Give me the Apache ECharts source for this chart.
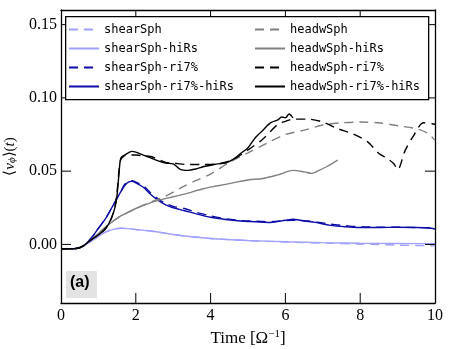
<!DOCTYPE html>
<html lang="en">
<head>
    <meta charset="UTF-8">
    <title>v_phi vs time</title>
    <script src="https://cdn.jsdelivr.net/npm/echarts@6/dist/echarts.min.js"></script>
</head>
<body style="margin:0;background:#fff">
<div id="container" style="width:449px;height:349px"></div>
<script type="text/javascript">
    // data
    let tShear = [0, 0.4, 0.6, 0.8, 1.0, 1.2, 1.4, 1.6, 1.8, 2.0, 2.5, 3.0, 3.5, 4.0, 5.0, 6.0, 7.0, 8.0, 9.0, 10];
    let shearSph = [-0.003, -0.0028, -0.001, 0.002, 0.0055, 0.0085, 0.0103, 0.011, 0.0108, 0.0102, 0.0088, 0.0068, 0.0052, 0.004, 0.0026, 0.0016, 0.0009, 0.0002, -0.0005, -0.001];
    let shearSphHiRs = [-0.003, -0.0028, -0.001, 0.002, 0.0055, 0.0085, 0.0103, 0.011, 0.0108, 0.0102, 0.0088, 0.0068, 0.0052, 0.004, 0.0027, 0.0018, 0.0012, 0.0008, 0.0006, 0.0005];

    let tShearRi = [0, 0.4, 0.6, 0.8, 1.0, 1.2, 1.4, 1.6, 1.7, 1.8, 1.9, 2.0, 2.2, 2.4, 2.6, 2.8, 3.0, 3.3, 3.6, 4.0, 4.4, 4.8, 5.2, 5.6, 6.0, 6.2, 6.5, 6.8, 7.2, 7.6, 8.0, 8.5, 9.0, 9.5, 9.9, 10];
    let shearSphRi = [-0.003, -0.0028, -0.001, 0.004, 0.011, 0.018, 0.027, 0.036, 0.041, 0.043, 0.0435, 0.0425, 0.040, 0.035, 0.031, 0.028, 0.026, 0.0245, 0.022, 0.0195, 0.0175, 0.0163, 0.0158, 0.0155, 0.0163, 0.0165, 0.0162, 0.0155, 0.0138, 0.0128, 0.012, 0.0118, 0.0117, 0.0115, 0.0113, 0.010];
    let shearSphRiHiRs = [-0.003, -0.0028, -0.001, 0.004, 0.011, 0.018, 0.027, 0.036, 0.040, 0.0425, 0.043, 0.042, 0.039, 0.034, 0.030, 0.027, 0.025, 0.023, 0.021, 0.0185, 0.017, 0.016, 0.0155, 0.015, 0.0165, 0.0172, 0.016, 0.015, 0.013, 0.012, 0.0115, 0.0115, 0.0117, 0.0115, 0.011, 0.0105];

    let tHeadw = [0, 0.4, 0.6, 0.8, 1.0, 1.2, 1.4, 1.6, 1.8, 2.0, 2.4, 2.8, 3.2, 3.6, 4.0, 4.5, 5.0, 5.5, 6.0, 6.5, 7.0, 7.5, 8.0, 8.5, 9.0, 9.5, 9.8, 10];
    let headwSph = [-0.003, -0.0028, -0.001, 0.003, 0.0075, 0.012, 0.016, 0.0195, 0.022, 0.0245, 0.029, 0.033, 0.0385, 0.0435, 0.048, 0.056, 0.0625, 0.069, 0.075, 0.078, 0.0815, 0.083, 0.0835, 0.083, 0.081, 0.079, 0.076, 0.071];

    let tHeadwHiRs = [0, 0.4, 0.6, 0.8, 1.0, 1.2, 1.4, 1.6, 1.8, 2.0, 2.3, 2.6, 3.0, 3.4, 3.8, 4.2, 4.6, 5.0, 5.4, 5.8, 6.2, 6.5, 6.7, 6.9, 7.1, 7.4];
    let headwSphHiRs = [-0.003, -0.0028, -0.001, 0.003, 0.0075, 0.012, 0.016, 0.0195, 0.022, 0.0245, 0.0275, 0.030, 0.0325, 0.035, 0.038, 0.040, 0.042, 0.044, 0.045, 0.0475, 0.0505, 0.0495, 0.0485, 0.0505, 0.053, 0.0575];

    let tHeadwRi = [0, 0.4, 0.6, 0.8, 1.0, 1.2, 1.35, 1.45, 1.5, 1.55, 1.6, 1.7, 1.8, 2.0, 2.2, 2.4, 2.6, 2.8, 3.0, 3.4, 3.8, 4.2, 4.6, 5.0, 5.4, 5.8, 6.0, 6.2, 6.6, 7.0, 7.4, 7.8, 8.2, 8.5, 8.7, 8.9, 9.0, 9.2, 9.4, 9.7, 10];
    let headwSphRi = [-0.003, -0.0028, -0.001, 0.003, 0.0065, 0.011, 0.018, 0.027, 0.036, 0.050, 0.058, 0.0605, 0.061, 0.061, 0.0605, 0.060, 0.058, 0.056, 0.0555, 0.0545, 0.0545, 0.055, 0.058, 0.0645, 0.072, 0.082, 0.084, 0.0855, 0.0855, 0.0835, 0.079, 0.0755, 0.070, 0.062, 0.059, 0.055, 0.051, 0.064, 0.073, 0.083, 0.082];

    let tHeadwRiHiRs = [0, 0.4, 0.6, 0.8, 1.0, 1.2, 1.35, 1.45, 1.5, 1.55, 1.6, 1.7, 1.8, 1.9, 2.0, 2.2, 2.4, 2.6, 2.8, 3.0, 3.2, 3.4, 3.6, 3.8, 4.0, 4.2, 4.4, 4.6, 4.8, 5.0, 5.2, 5.4, 5.6, 5.8, 5.9, 6.0, 6.1, 6.2];
    let headwSphRiHiRs = [-0.003, -0.0028, -0.001, 0.003, 0.0065, 0.011, 0.018, 0.026, 0.034, 0.048, 0.059, 0.061, 0.0625, 0.0635, 0.063, 0.061, 0.059, 0.057, 0.0555, 0.055, 0.051, 0.0505, 0.0515, 0.053, 0.054, 0.055, 0.0555, 0.058, 0.062, 0.066, 0.073, 0.078, 0.083, 0.085, 0.087, 0.0865, 0.089, 0.0863];

    // tick values
    let xTicks = [2, 4, 6, 8];
    let yTicks = [0, 0.05, 0.10, 0.15];
    let xMin = 0, xMax = 10, yMin = -0.04, yMax = 0.16;

    function pairs(t, v) {
        let out = [];
        for (let i = 0; i < t.length; i++) {
            out.push([t[i], v[i]]);
        }
        return out;
    }

    function line(name, t, v, color, dashed) {
        return {
            name: name,
            type: 'line',
            data: pairs(t, v),
            symbol: 'none',
            smooth: 0.3,
            lineStyle: {color: color, width: 1.4, type: dashed ? [9, 6] : 'solid'},
            itemStyle: {color: color}
        };
    }

    // inward ticks on all four sides, placed through the axes' own coord()
    // side: 0 bottom, 1 top, 2 left, 3 right
    let tickItems = [];
    xTicks.forEach(function (v) { tickItems.push([v, 0]); tickItems.push([v, 1]); });
    yTicks.forEach(function (v) { tickItems.push([v, 2]); tickItems.push([v, 3]); });

    function renderTick(params, api) {
        let v = api.value(0), side = api.value(1);
        let p, q;
        if (side < 2) {
            p = api.coord([v, side === 0 ? yMin : yMax]);
            q = [p[0], side === 0 ? p[1] - 10 : p[1] + 10];
        } else {
            p = api.coord([side === 2 ? xMin : xMax, v]);
            q = [side === 2 ? p[0] + 10 : p[0] - 10, p[1]];
        }
        return {
            type: 'line',
            shape: {x1: p[0], y1: p[1], x2: q[0], y2: q[1]},
            style: {stroke: '#000', lineWidth: 1}
        };
    }

    function frame() {
        return {show: true, onZero: false, lineStyle: {color: '#000', width: 1.3}};
    }

    let serif = 'Liberation Serif';
    let mono = 'DejaVu Sans Mono';

    function legend(left, names) {
        return {
            orient: 'vertical',
            left: left,
            top: 17.5,
            padding: 5,
            itemWidth: 30,
            itemHeight: 14,
            itemGap: 5,
            itemTextGap: 4,
            itemStyle: {opacity: 0},
            textStyle: {fontFamily: mono, fontSize: 12, color: '#000', lineHeight: 14},
            z: 20,
            data: names
        };
    }

    let myChart = echarts.init(document.getElementById('container'));
    let option = {
        animation: false,
        grid: {left: 61, right: 14, top: 10, bottom: 46, outerBoundsMode: 'none'},
        legend: [
            legend(63, ['shearSph', 'shearSph-hiRs', 'shearSph-ri7%', 'shearSph-ri7%-hiRs']),
            legend(249, ['headwSph', 'headwSph-hiRs', 'headwSph-ri7%', 'headwSph-ri7%-hiRs'])
        ],
        xAxis: [
            {
                type: 'value', min: xMin, max: xMax, interval: 2,
                name: 'Time [Ω{sup|−1}]',
                nameLocation: 'middle', nameGap: 23,
                nameTextStyle: {
                    fontFamily: serif, fontSize: 17, color: '#000',
                    rich: {sup: {fontFamily: serif, fontSize: 11, padding: [0, 0, 9, 0], color: '#000'}}
                },
                axisLine: frame(),
                axisTick: {show: false},
                axisLabel: {fontFamily: serif, fontSize: 16, color: '#000', margin: 5},
                splitLine: {show: false}
            },
            {
                type: 'value', min: xMin, max: xMax, position: 'top',
                axisLine: frame(),
                axisTick: {show: false},
                axisLabel: {show: false},
                splitLine: {show: false}
            }
        ],
        yAxis: [
            {
                type: 'value', min: yMin, max: yMax,
                name: '⟨{it|v}{sub|ϕ}⟩({it|t})',
                nameLocation: 'middle', nameGap: 42, nameRotate: 90,
                nameTextStyle: {
                    fontFamily: serif, fontSize: 15, color: '#000',
                    rich: {
                        it: {fontFamily: serif, fontSize: 15, fontStyle: 'italic', color: '#000'},
                        sub: {fontFamily: serif, fontSize: 11, fontStyle: 'italic', padding: [6, 0, 0, 0], color: '#000'}
                    }
                },
                axisLine: frame(),
                axisTick: {show: false},
                axisLabel: {
                    fontFamily: serif, fontSize: 16, color: '#000', margin: 4,
                    customValues: yTicks,
                    formatter: function (v) { return v.toFixed(2); }
                },
                splitLine: {show: false}
            },
            {
                type: 'value', min: yMin, max: yMax, position: 'right',
                axisLine: frame(),
                axisTick: {show: false},
                axisLabel: {show: false},
                splitLine: {show: false}
            }
        ],
        graphic: [
            {
                type: 'rect', left: 65, top: 16, z: 15,
                shape: {width: 363, height: 83},
                style: {fill: '#fff', stroke: '#000', lineWidth: 1.3}
            },
            {
                type: 'rect', left: 66, top: 271, z: 15,
                shape: {width: 31, height: 27},
                style: {fill: '#e3e3e3'}
            },
            {
                type: 'text', left: 70, top: 275, z: 16,
                style: {text: '(a)', font: 'bold 16px "Liberation Sans"', fill: '#000'}
            }
        ],
        series: [
            line('shearSph', tShear, shearSph, '#a0a0ff', true),
            line('shearSph-hiRs', tShear, shearSphHiRs, '#a0a0ff', false),
            line('shearSph-ri7%', tShearRi, shearSphRi, '#0c0ca8', true),
            line('shearSph-ri7%-hiRs', tShearRi, shearSphRiHiRs, '#0c0ca8', false),
            line('headwSph', tHeadw, headwSph, '#808080', true),
            line('headwSph-hiRs', tHeadwHiRs, headwSphHiRs, '#808080', false),
            line('headwSph-ri7%', tHeadwRi, headwSphRi, '#000000', true),
            line('headwSph-ri7%-hiRs', tHeadwRiHiRs, headwSphRiHiRs, '#000000', false),
            {
                type: 'custom',
                name: 'ticks',
                data: tickItems,
                renderItem: renderTick,
                clip: false,
                silent: true,
                z: 5
            }
        ]
    };
    myChart.setOption(option);
</script>
</body>
</html>
